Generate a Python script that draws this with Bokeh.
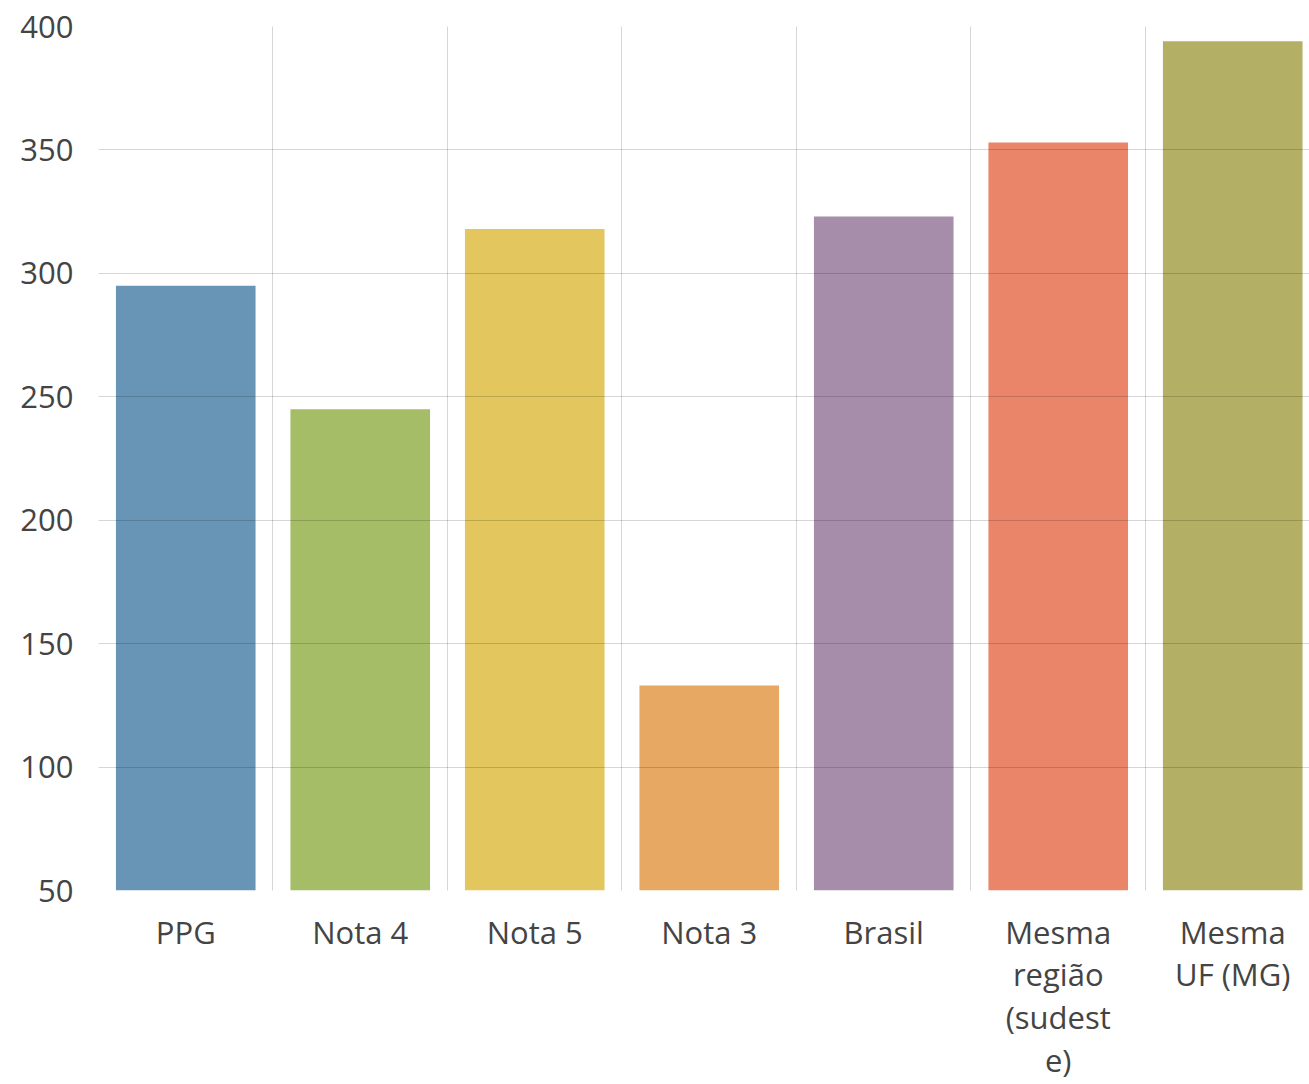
from bokeh.plotting import figure
from bokeh.models import FixedTicker, Range1d, ColumnDataSource
from bokeh.embed import file_html
from bokeh.resources import INLINE

categories = ["PPG", "Nota 4", "Nota 5", "Nota 3", "Brasil",
              "Mesma\nregião\n(sudest\ne)", "Mesma\nUF (MG)"]
values = [295, 245, 318, 133, 323, 353, 394]
colors = ["#6894B6", "#A5BD67", "#E3C65E", "#E6A862", "#A68EAB", "#EA856A", "#B3AF64"]
y_ticks = [50, 100, 150, 200, 250, 300, 350, 400]

positions = [i + 0.5 for i in range(len(categories))]
src = ColumnDataSource(dict(x=positions, top=values, color=colors))

p = figure(width=1309, height=1084, output_backend="svg", toolbar_location=None,
           x_range=Range1d(0, 6.94), y_range=Range1d(50, 400))
p.min_border_left = 98
p.min_border_right = 0
p.min_border_top = 26
p.min_border_bottom = 193
p.outline_line_color = None

p.vbar(x="x", top="top", bottom=50, width=0.8, fill_color="color", line_color=None, source=src)

p.xaxis.ticker = FixedTicker(ticks=positions)
p.xaxis.major_label_overrides = {pos: lab for pos, lab in zip(positions, categories)}
p.yaxis.ticker = FixedTicker(ticks=y_ticks)
p.xgrid.ticker = FixedTicker(ticks=list(range(len(categories) + 1)))
p.ygrid.ticker = FixedTicker(ticks=y_ticks)

for ax in (p.xaxis[0], p.yaxis[0]):
    ax.axis_line_color = None
    ax.major_tick_line_color = None
    ax.minor_tick_line_color = None
    ax.major_label_text_font = "Open Sans"
    ax.major_label_text_font_size = "31px"
    ax.major_label_text_color = "#444444"
p.xaxis.major_label_text_line_height = 1.02
p.yaxis.major_label_standoff = 19
p.xaxis.major_label_standoff = 14

for g in p.grid:
    g.grid_line_color = "#000000"
    g.grid_line_alpha = 0.16
    g.level = "overlay"

open("out.html", "w").write(file_html(p, INLINE))
